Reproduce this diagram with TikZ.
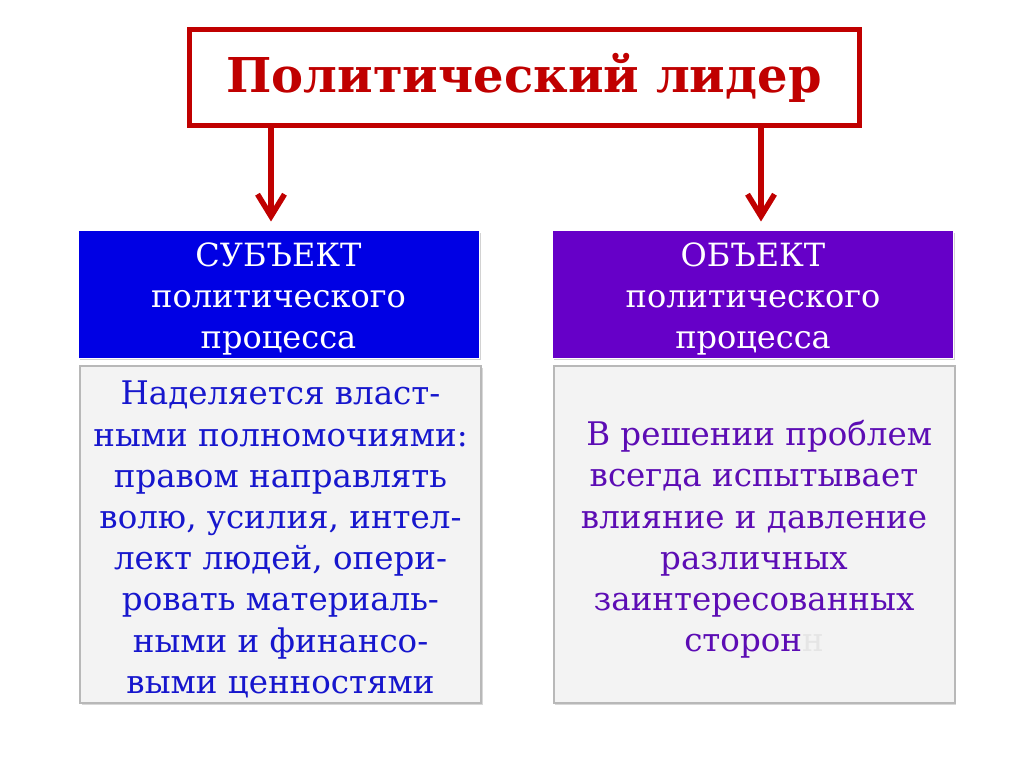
\documentclass[tikz,border=0pt]{standalone}
\usepackage{fontspec}
\setmainfont{DejaVu Serif}
\usetikzlibrary{arrows.meta,shadows}
\definecolor{tred}{RGB}{192,0,0}
\definecolor{hblue}{RGB}{0,0,228}
\definecolor{hpurple}{RGB}{102,0,200}
\definecolor{tblue}{RGB}{22,22,205}
\definecolor{tpurple}{RGB}{92,12,180}
\definecolor{boxgray}{RGB}{243,243,243}
\begin{document}
\begin{tikzpicture}[x=1pt,y=-1pt,
  titlebox/.style={draw=tred, line width=5pt, fill=white, minimum width=670pt, minimum height=96pt, inner sep=0pt,
    text=tred, font=\fontsize{48}{58}\selectfont\bfseries},
  headbox/.style={minimum width=401pt, minimum height=127pt, inner sep=0pt, draw=white, line width=1pt,
    drop shadow={opacity=0.35, shadow xshift=1.5pt, shadow yshift=-2pt}},
  headtext/.style={text=white, align=center, inner sep=0pt, yshift=-4pt, font=\fontsize{32}{41}\selectfont},
  bodybox/.style={fill=boxgray, draw=black!28, line width=2pt, minimum width=401pt, minimum height=337pt, inner sep=0pt,
    drop shadow={opacity=0.3, shadow xshift=1.5pt, shadow yshift=-2pt}},
  bodytext/.style={align=center, inner sep=0pt, yshift=-5pt, font=\fontsize{32.5}{41.2}\selectfont},
  arr/.style={draw=tred, line width=5.5pt, -{Straight Barb[length=22pt,width=27pt]}},
]
\useasboundingbox[fill=white] (0,0) rectangle (1024,767);
\node[titlebox] (title) at (524,78) {Политический лидер};
\node[headbox, fill=hblue, label={[headtext]center:{СУБЪЕКТ\\политического\\процесса}}] (subj) at (278.5,294.5) {};
\node[headbox, fill=hpurple, label={[headtext]center:{ОБЪЕКТ\\политического\\процесса}}] (obj) at (753,294.5) {};
\node[bodybox, label={[bodytext, text=tblue]center:{Наделяется власт-\\ными полномочиями:\\правом направлять\\волю, усилия, интел-\\лект людей, опери-\\ровать материаль-\\ными и финансо-\\выми ценностями}}] (subjtext) at (280.5,534.5) {};
\node[bodybox, label={[bodytext, text=tpurple]center:{\ В решении проблем\\всегда испытывает\\влияние и давление\\различных\\заинтересованных\\сторон\textcolor{black!10}{н}}}] (objtext) at (754,534.5) {};
\draw[arr] ([xshift=-253pt]title.south) -- ([xshift=-7.5pt,yshift=9pt]subj.north);
\draw[arr] ([xshift=237pt]title.south) -- ([xshift=8pt,yshift=9pt]obj.north);
\end{tikzpicture}
\end{document}
